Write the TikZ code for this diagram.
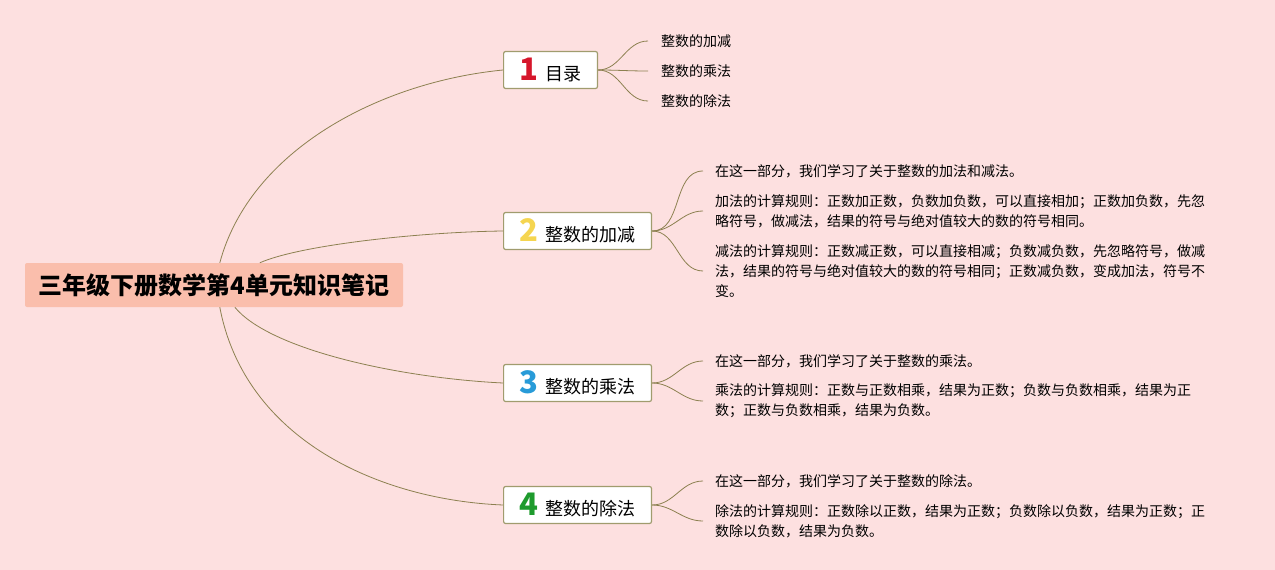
\documentclass[tikz,border=0pt]{standalone}
\usepackage{fontspec}
\setmainfont{Noto Sans CJK SC}
\usetikzlibrary{positioning}
\usepackage{xcolor}
\definecolor{bgpink}{RGB}{253,224,224}
\definecolor{rootfill}{RGB}{250,190,172}
\definecolor{linkcol}{RGB}{140,128,80}
\definecolor{boxline}{RGB}{160,156,110}
\definecolor{numred}{RGB}{214,22,43}
\definecolor{numyellow}{RGB}{245,213,80}
\definecolor{numblue}{RGB}{40,155,216}
\definecolor{numgreen}{RGB}{30,155,45}
\newcommand{\topicnum}[2]{{\color{#1}\fontsize{31}{31}\selectfont\bfseries #2}\hspace{7pt}}

\begin{document}
\begin{tikzpicture}[x=1pt,y=-1pt,
            root node/.style={fill=rootfill, rounded corners=2pt, minimum width=378pt, minimum height=44pt, inner sep=0pt, font=\fontsize{24}{30}\selectfont\bfseries},
            topic node/.style={draw=boxline, line width=1.2pt, fill=white, rounded corners=2pt, anchor=west, minimum height=37pt, inner xsep=16pt, inner ysep=0pt, font=\fontsize{18}{22}\selectfont},
            leaf node/.style={anchor=west, align=left, inner xsep=12pt, inner ysep=1pt, font=\fontsize{14}{20}\selectfont},
            link/.style={draw=linkcol, line width=0.8pt}]

        \fill[bgpink] (0,0) rectangle (1275,570);
        \useasboundingbox (0,0) rectangle (1275,570);

        \node[root node] (root) at (214,285) {三年级下册数学第4单元知识笔记};

        \node[topic node] (t1) at (503,70) {\topicnum{numred}{1}目录};
        \node[topic node] (t2) at (503,231) {\topicnum{numyellow}{2}整数的加减};
        \node[topic node] (t3) at (503,383) {\topicnum{numblue}{3}整数的乘法};
        \node[topic node] (t4) at (503,505) {\topicnum{numgreen}{4}整数的除法};

        \node[leaf node, inner xsep=13pt] (l11) at (648,41) {整数的加减};
        \node[leaf node, inner xsep=13pt] (l12) at (648,71) {整数的乘法};
        \node[leaf node, inner xsep=13pt] (l13) at (648,101) {整数的除法};

        \node[leaf node] (l21) at (703,171) {在这一部分，我们学习了关于整数的加法和减法。};
        \node[leaf node] (l22) at (703,211) {加法的计算规则：正数加正数，负数加负数，可以直接相加；正数加负数，先忽\\略符号，做减法，结果的符号与绝对值较大的数的符号相同。};
        \node[leaf node] (l23) at (703,271) {减法的计算规则：正数减正数，可以直接相减；负数减负数，先忽略符号，做减\\法，结果的符号与绝对值较大的数的符号相同；正数减负数，变成加法，符号不\\变。};

        \node[leaf node] (l31) at (703,361) {在这一部分，我们学习了关于整数的乘法。};
        \node[leaf node] (l32) at (703,401) {乘法的计算规则：正数与正数相乘，结果为正数；负数与负数相乘，结果为正\\数；正数与负数相乘，结果为负数。};

        \node[leaf node] (l41) at (703,481) {在这一部分，我们学习了关于整数的除法。};
        \node[leaf node] (l42) at (703,521) {除法的计算规则：正数除以正数，结果为正数；负数除以负数，结果为正数；正\\数除以负数，结果为负数。};

        \draw[link] ([xshift=195pt]root.north west) .. controls (250,150) and (380,82) .. (t1.west);
        \draw[link] ([xshift=235pt]root.north west) .. controls (300,245) and (420,232) .. (t2.west);
        \draw[link] ([xshift=210pt]root.south west) .. controls (270,350) and (400,378) .. (t3.west);
        \draw[link] ([xshift=195pt]root.south west) .. controls (245,440) and (380,500) .. (t4.west);

        \draw[link] (t1.east) to[out=0,in=180] (l11.west);
        \draw[link] (t1.east) to[out=0,in=180] (l12.west);
        \draw[link] (t1.east) to[out=0,in=180] (l13.west);
        \draw[link] (t2.east) to[out=0,in=180] (l21.west);
        \draw[link] (t2.east) to[out=0,in=180] (l22.west);
        \draw[link] (t2.east) to[out=0,in=180] (l23.west);
        \draw[link] (t3.east) to[out=0,in=180] (l31.west);
        \draw[link] (t3.east) to[out=0,in=180] (l32.west);
        \draw[link] (t4.east) to[out=0,in=180] (l41.west);
        \draw[link] (t4.east) to[out=0,in=180] (l42.west);
\end{tikzpicture}
\end{document}
